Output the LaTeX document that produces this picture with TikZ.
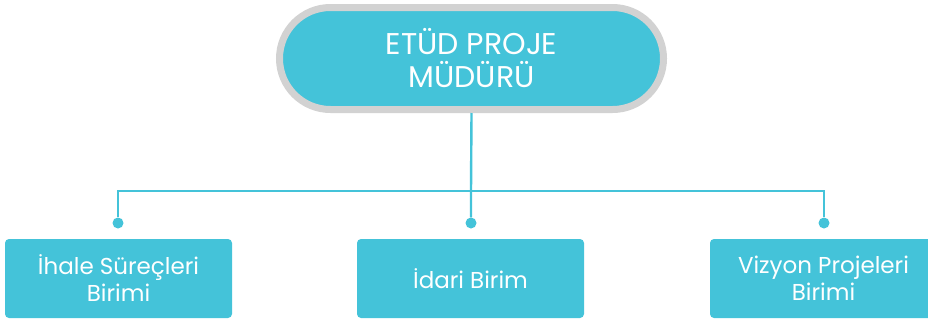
\documentclass[tikz,border=0pt]{standalone}
\usepackage{fontspec}
\setmainfont{Poppins}
\definecolor{etudcyan}{HTML}{44C3D9}
\definecolor{etudgray}{HTML}{D2D2D2}
\tikzset{
  unit/.style={rectangle,fill=etudcyan,rounded corners=4pt,minimum width=227pt,minimum height=79pt,
    text=white,font=\fontsize{23}{27}\selectfont,align=center,inner sep=0pt},
  link/.style={draw=etudcyan,line width=2.4pt},
  joint/.style={circle,fill=etudcyan,inner sep=0pt,minimum size=11pt}
}

\begin{document}
\begin{tikzpicture}[x=1pt,y=-1pt]
\useasboundingbox (0,0) rectangle (928,322);
\node[rectangle,draw=etudgray,line width=7pt,fill=etudcyan,rounded corners=51pt,minimum width=384pt,minimum height=102pt,
  text=white,font=\fontsize{30}{33}\selectfont,align=center,inner sep=0pt] (head) at (471.5,58.5) {ETÜD PROJE\\MÜDÜRÜ};
\coordinate (hub) at (471,191);
\node[joint] (jl) at (118,223) {};
\node[joint] (jm) at (471,223) {};
\node[joint] (jr) at (824,223) {};
\node[unit] (ihale) at (118.5,278.5) {İhale Süreçleri\\Birimi};
\node[unit] (idari) at (470.5,278.5) {İdari Birim};
\node[unit] (vizyon) at (823.5,278.5) {Vizyon Projeleri\\Birimi};
\draw[link] (head.south) -- (hub) -- (jm);
\draw[link] (jl) -- (jl |- hub) -- (jr |- hub) -- (jr);
\end{tikzpicture}
\end{document}
